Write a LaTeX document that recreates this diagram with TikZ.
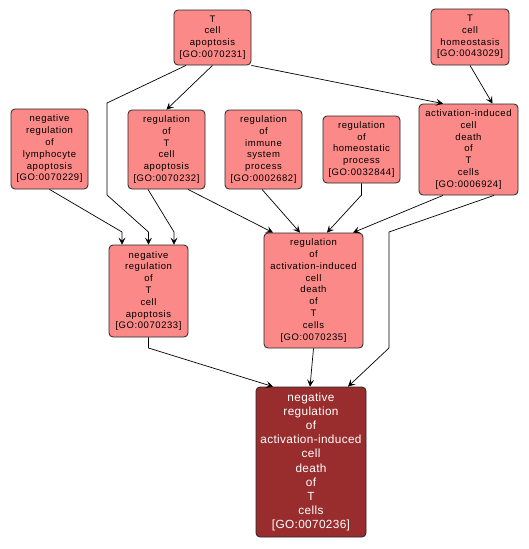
\documentclass[tikz,border=0pt]{standalone}
\usepackage{fontspec}
\setmainfont{Liberation Sans}
\newfontfamily\lblfont[LetterSpace=6]{Liberation Sans}
\newfontfamily\tgtfont[LetterSpace=3]{Liberation Sans}
\usetikzlibrary{arrows.meta}
\definecolor{lightnode}{RGB}{250,137,135}
\definecolor{darknode}{RGB}{153,45,46}
\begin{document}
\begin{tikzpicture}[x=1pt,y=-1pt,
  goterm/.style={draw=black!85, line width=0.8pt, rounded corners=4pt, fill=lightnode,
    align=center, inner sep=0pt, text=black, font=\lblfont\fontsize{9.5}{11.8}\selectfont},
  target/.style={draw=black!85, line width=0.8pt, rounded corners=4pt, fill=darknode,
    align=center, inner sep=0pt, text=white, font=\tgtfont\fontsize{11.8}{14.2}\selectfont},
  conn/.style={draw=black, line width=0.7pt, -{Stealth[length=7pt,width=7pt,inset=3pt]}}]
\useasboundingbox (0,0) rectangle (529,549);
\fill[white] (0,0) rectangle (529,549);
% nodes
\node[goterm, minimum width=77pt, minimum height=55pt] (tca) at (212.5,37.5) {T\\cell\\apoptosis\\{}[GO:0070231]};
\node[goterm, minimum width=78pt, minimum height=56pt] (tch) at (470,37) {T\\cell\\homeostasis\\{}[GO:0043029]};
\node[goterm, minimum width=77pt, minimum height=80pt] (nrla) at (49.5,149) {negative\\regulation\\of\\lymphocyte\\apoptosis\\{}[GO:0070229]};
\node[goterm, minimum width=77pt, minimum height=79pt] (rtca) at (166.5,149.5) {regulation\\of\\T\\cell\\apoptosis\\{}[GO:0070232]};
\node[goterm, minimum width=77pt, minimum height=79pt] (risp) at (263.5,149.5) {regulation\\of\\immune\\system\\process\\{}[GO:0002682]};
\node[goterm, minimum width=77pt, minimum height=67pt] (rhp) at (361.5,149.5) {regulation\\of\\homeostatic\\process\\{}[GO:0032844]};
\node[goterm, minimum width=99pt, minimum height=91pt] (aicd) at (468.5,149.5) {activation-induced\\cell\\death\\of\\T\\cells\\{}[GO:0006924]};
\node[goterm, minimum width=79pt, minimum height=92pt] (nrtca) at (148.5,291) {negative\\regulation\\of\\T\\cell\\apoptosis\\{}[GO:0070233]};
\node[goterm, minimum width=99pt, minimum height=115pt] (raicd) at (313.5,290.5) {regulation\\of\\activation-induced\\cell\\death\\of\\T\\cells\\{}[GO:0070235]};
\node[target, minimum width=110pt, minimum height=150pt] (tgt) at (311,462) {negative\\regulation\\of\\activation-induced\\cell\\death\\of\\T\\cells\\{}[GO:0070236]};
% bend points
\coordinate (b1) at (107,103);
\coordinate (b2) at (107,195);
\coordinate (b3) at (148.5,232);
\coordinate (b4) at (122,232);
\coordinate (b5) at (174,232);
\coordinate (b6) at (361.5,195);
\coordinate (b7) at (389,232);
\coordinate (b8) at (389,348);
\coordinate (b9) at (148.5,348);
% connectors
\draw[conn] (tca.south) -- (rtca.north);
\draw[conn] ([xshift=-26.5pt]tca.south) -- (b1) -- (b2) -- (b3) -- (nrtca.north);
\draw[conn] (tca.south east) -- ([xshift=-25.5pt]aicd.north);
\draw[conn] (tch.south) -- ([xshift=24pt]aicd.north);
\draw[conn] (nrla.south) -- (b4) -- ([xshift=-26.5pt]nrtca.north);
\draw[conn] ([xshift=-18.5pt]rtca.south) -- (b5) -- ([xshift=25.5pt]nrtca.north);
\draw[conn] ([xshift=21.5pt]rtca.south) -- ([xshift=-40.5pt]raicd.north);
\draw[conn] ([xshift=-1.5pt]risp.south) -- ([xshift=-13.5pt]raicd.north);
\draw[conn] (rhp.south) -- (b6) -- ([xshift=13.5pt]raicd.north);
\draw[conn] ([xshift=-25.5pt]aicd.south) -- ([xshift=39.5pt]raicd.north);
\draw[conn] ([xshift=25.5pt]aicd.south) -- (b7) -- (b8) -- ([xshift=37pt]tgt.north);
\draw[conn] (nrtca.south) -- (b9) -- ([xshift=-38pt]tgt.north);
\draw[conn] (raicd.south) -- ([xshift=-1pt]tgt.north);
\end{tikzpicture}
\end{document}
